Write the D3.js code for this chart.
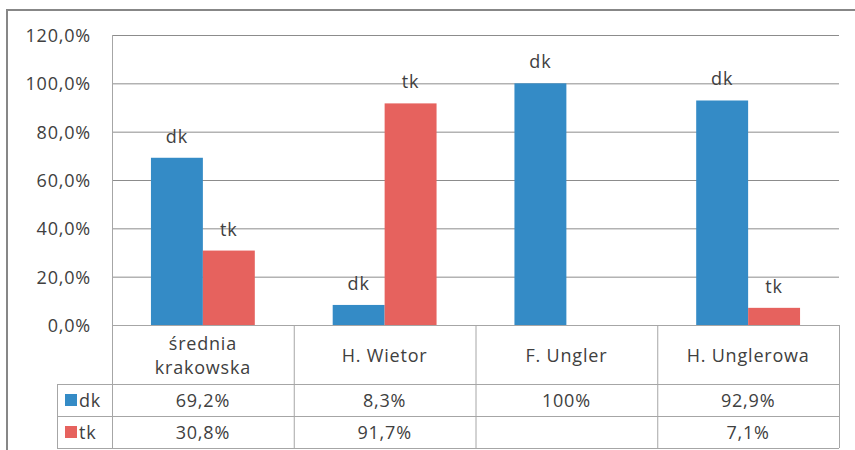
<!DOCTYPE html>
<html>
<head>
<meta charset="utf-8">
<script src="https://cdn.jsdelivr.net/npm/d3@7"></script>
<style>
  body { margin: 0; background: #fff; }
  text { font-family: "Open Sans", sans-serif; fill: #404040; letter-spacing: 0.8px; }
</style>
</head>
<body>
<svg id="viz" width="855" height="450"></svg>
<script>
var categories = ["średnia\nkrakowska", "H. Wietor", "F. Ungler", "H. Unglerowa"];
var seriesNames = ["dk", "tk"];
var dkValues = [69.2, 8.3, 100, 92.9];
var tkValues = [30.8, 91.7, null, 7.1];
var dkLabels = ["69,2%", "8,3%", "100%", "92,9%"];
var tkLabels = ["30,8%", "91,7%", "", "7,1%"];
var yTicks = [0, 20, 40, 60, 80, 100, 120];
var colors = ["#348bc6", "#e6625e"];

var svg = d3.select("#viz");
var fontSize = 18;

var plotLeft = 112, plotRight = 839, plotTop = 35, plotBottom = 325;
var rowTop = 384, rowMid = 416, rowBottom = 448, legendLeft = 57;

// outer chart frame (cut off at right and bottom)
svg.append("path")
    .attr("d", "M7,450 V10 H855")
    .attr("fill", "none")
    .attr("stroke", "#878787")
    .attr("stroke-width", 2);

var y = d3.scaleLinear().domain([0, 120]).range([plotBottom, plotTop]);
var x0 = d3.scaleBand().domain(d3.range(categories.length)).range([plotLeft, plotRight]);
var x1 = d3.scaleBand().domain(seriesNames).range([0, x0.bandwidth()]).paddingOuter(0.75);

var fmt = function(v) { return d3.format(".1f")(v).replace(".", ",") + "%"; };

// gridlines
svg.append("g").selectAll("line")
    .data(yTicks.filter(function(t) { return t > 0; }))
    .enter().append("line")
    .attr("x1", plotLeft).attr("x2", plotRight)
    .attr("y1", function(d) { return y(d) + 0.5; })
    .attr("y2", function(d) { return y(d) + 0.5; })
    .attr("stroke", "#8c8c8c");

// y labels
svg.append("g").selectAll("text")
    .data(yTicks)
    .enter().append("text")
    .attr("x", 91)
    .attr("y", function(d) { return y(d); })
    .attr("text-anchor", "end")
    .attr("dominant-baseline", "central")
    .style("font-size", fontSize + "px")
    .text(fmt);

// bars
var series = [dkValues, tkValues];
var groups = svg.append("g").selectAll("g")
    .data(categories.map(function(c, i) { return i; }))
    .enter().append("g")
    .attr("transform", function(i) { return "translate(" + x0(i) + ",0)"; });

seriesNames.forEach(function(name, s) {
    var withVal = groups.filter(function(i) { return series[s][i] != null; });
    withVal.append("rect")
        .attr("x", x1(name))
        .attr("width", x1.bandwidth())
        .attr("y", function(i) { return y(series[s][i]); })
        .attr("height", function(i) { return plotBottom - y(series[s][i]); })
        .attr("fill", colors[s]);
    withVal.append("text")
        .attr("x", x1(name) + x1.bandwidth() / 2)
        .attr("y", function(i) { return y(series[s][i]) - 15; })
        .attr("text-anchor", "middle")
        .style("font-size", fontSize + "px")
        .text(name);
});

// data table
var grid = svg.append("g").attr("stroke", "#a6a6a6").attr("fill", "none");
grid.append("line").attr("x1", plotLeft).attr("x2", plotRight).attr("y1", plotBottom + 0.5).attr("y2", plotBottom + 0.5);
[rowTop, rowMid, rowBottom].forEach(function(yy) {
    grid.append("line").attr("x1", legendLeft).attr("x2", plotRight).attr("y1", yy + 0.5).attr("y2", yy + 0.5);
});
grid.append("line").attr("x1", legendLeft + 0.5).attr("x2", legendLeft + 0.5).attr("y1", rowTop).attr("y2", rowBottom);
grid.append("line").attr("x1", plotLeft + 0.5).attr("x2", plotLeft + 0.5).attr("y1", plotTop).attr("y2", rowBottom);
d3.range(1, categories.length + 1).forEach(function(i) {
    var xx = i < categories.length ? x0(i) : plotRight;
    grid.append("line").attr("x1", xx + 0.5).attr("x2", xx + 0.5).attr("y1", plotBottom).attr("y2", rowBottom);
});

// category labels
svg.append("g").selectAll("text")
    .data(categories)
    .enter().append("text")
    .attr("text-anchor", "middle")
    .style("font-size", fontSize + "px")
    .each(function(c, i) {
        var lines = c.split("\n");
        var cy = (plotBottom + rowTop) / 2;
        var lh = 24;
        d3.select(this).selectAll("tspan")
            .data(lines).enter().append("tspan")
            .attr("x", x0(i) + x0.bandwidth() / 2)
            .attr("y", function(l, k) { return cy + (k - (lines.length - 1) / 2) * lh; })
            .attr("dominant-baseline", "central")
            .text(function(l) { return l; });
    });

// value rows + legend keys
var rowLabels = [dkLabels, tkLabels];
[rowTop, rowMid].forEach(function(top, s) {
    var cy = top + (rowBottom - rowMid) / 2;
    svg.append("rect")
        .attr("x", 65).attr("y", cy - 6)
        .attr("width", 12).attr("height", 12)
        .attr("fill", colors[s]);
    svg.append("text")
        .attr("x", 79).attr("y", cy)
        .attr("dominant-baseline", "central")
        .style("font-size", fontSize + "px")
        .text(seriesNames[s]);
    svg.append("g").selectAll("text")
        .data(rowLabels[s])
        .enter().append("text")
        .attr("x", function(d, i) { return x0(i) + x0.bandwidth() / 2; })
        .attr("y", cy)
        .attr("text-anchor", "middle")
        .attr("dominant-baseline", "central")
        .style("font-size", fontSize + "px")
        .text(function(d) { return d; });
});
</script>
</body>
</html>
